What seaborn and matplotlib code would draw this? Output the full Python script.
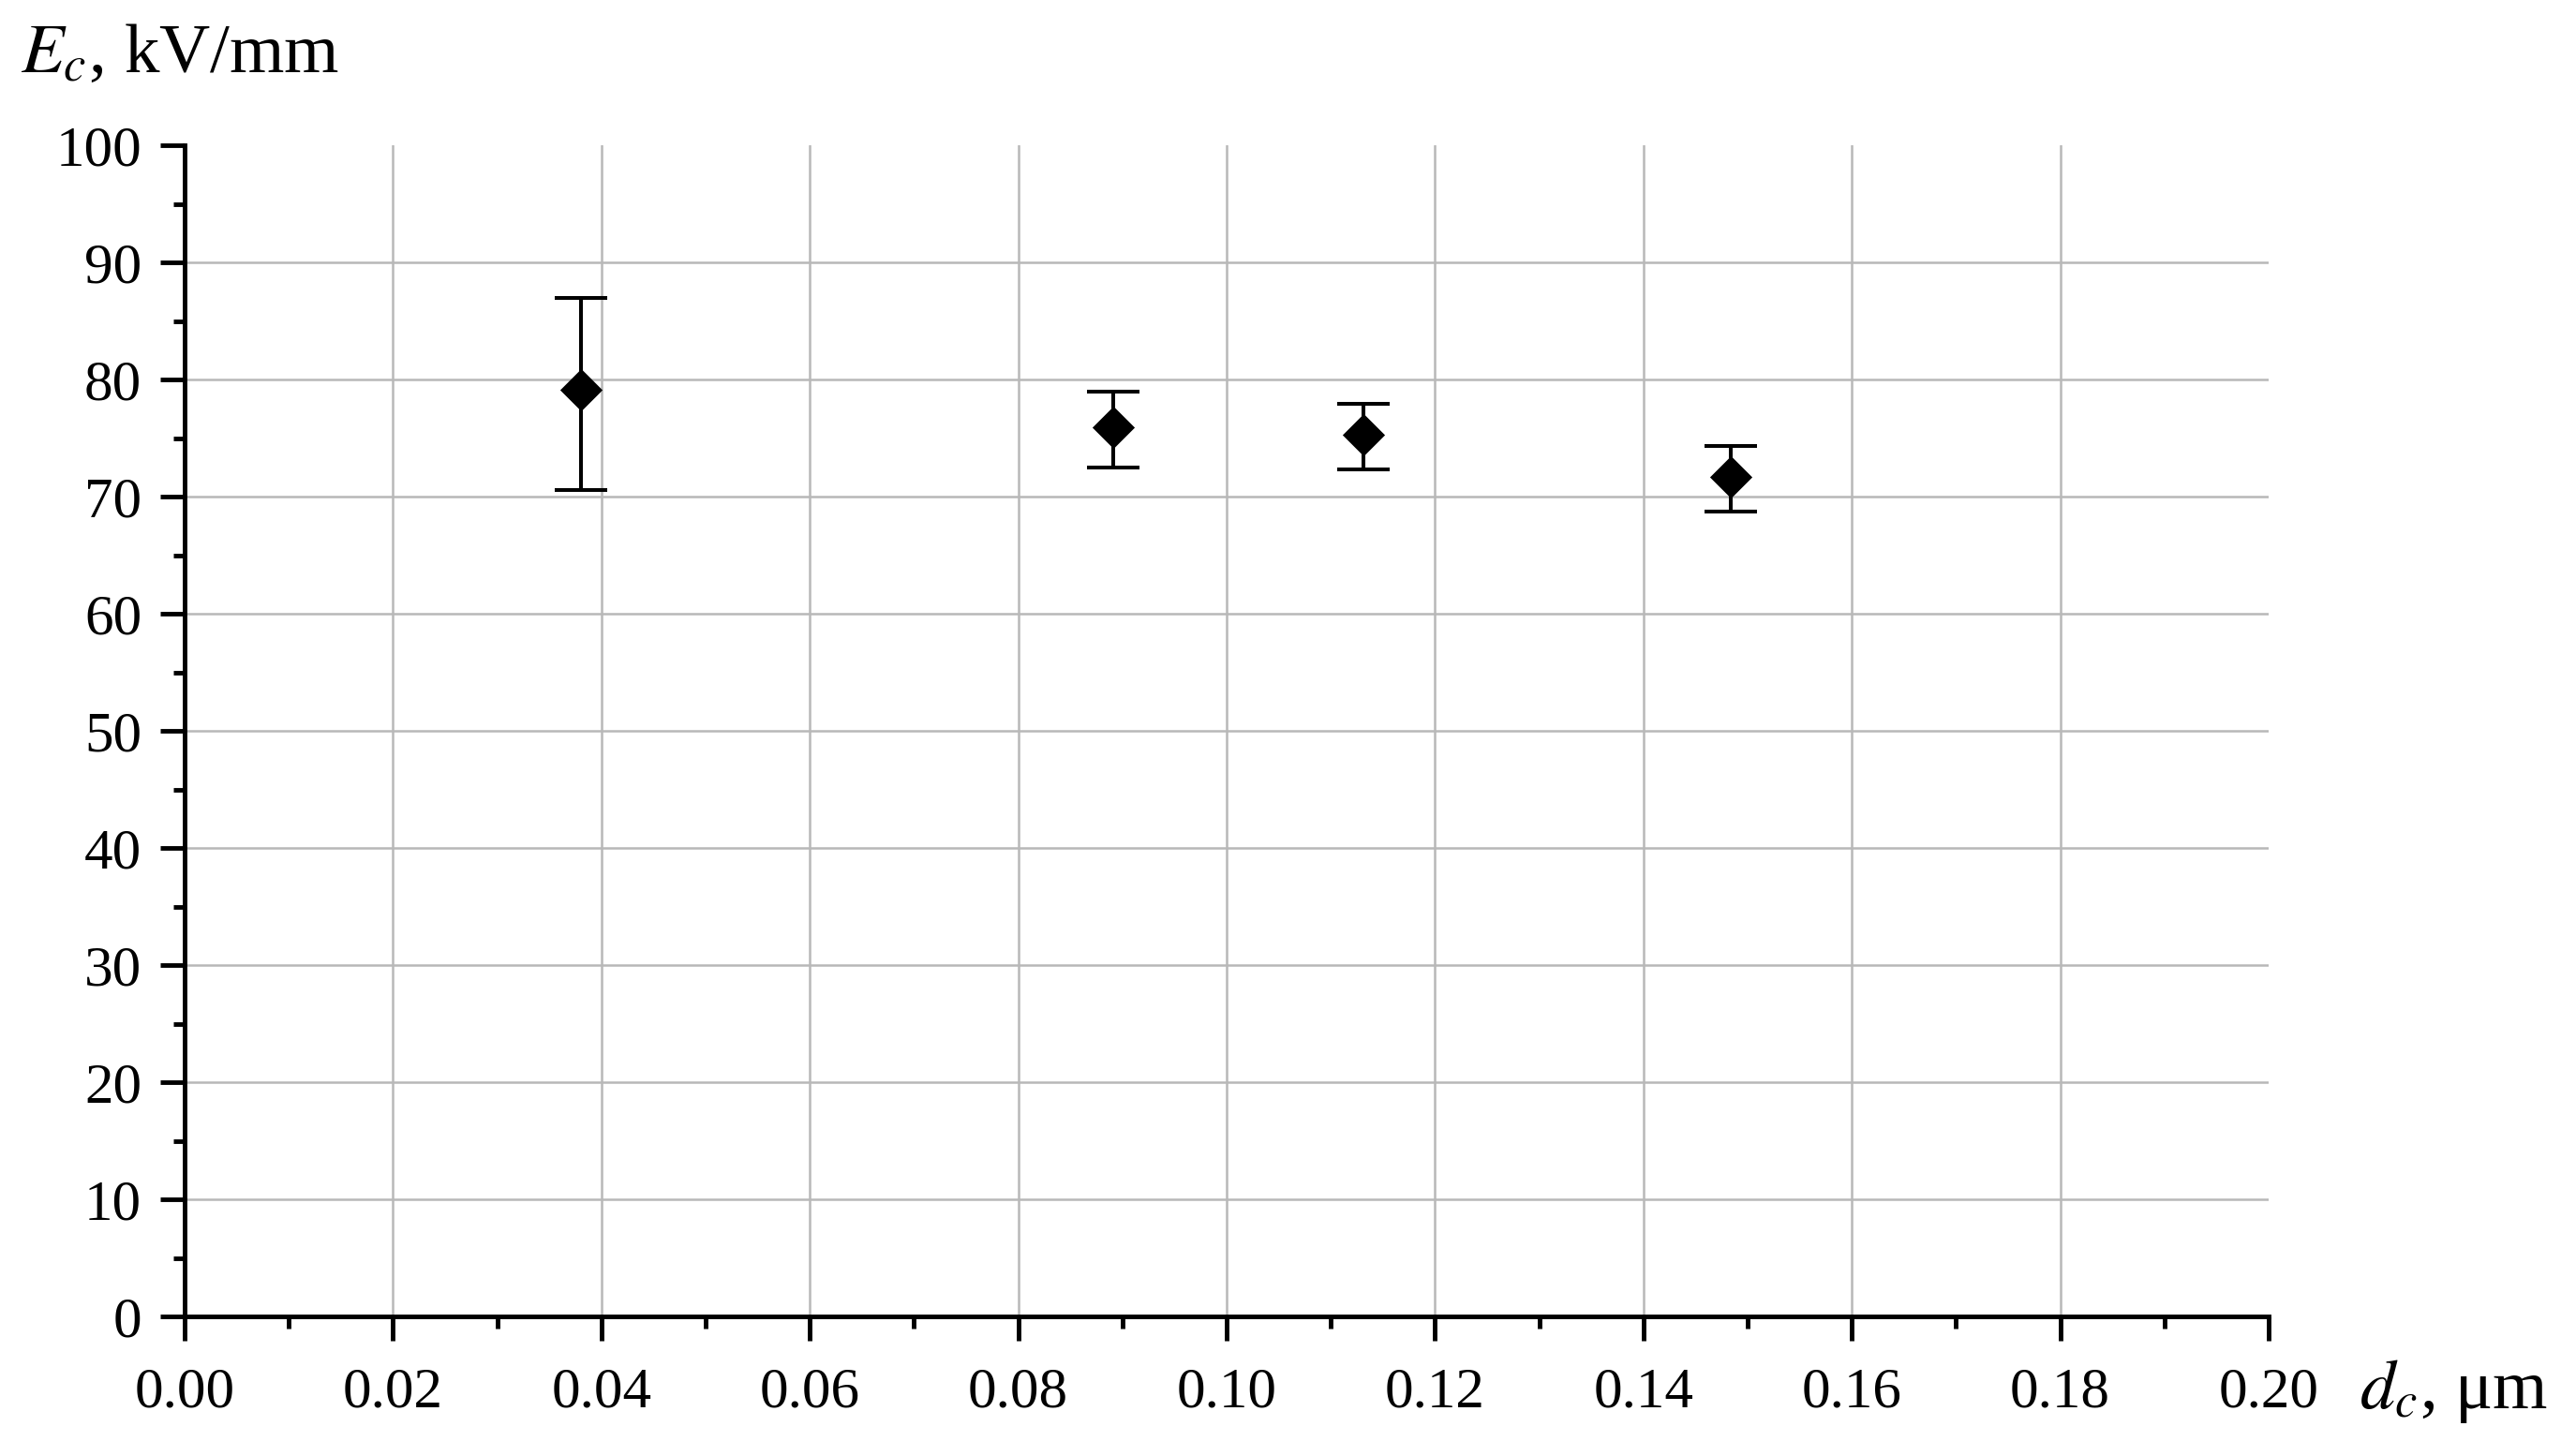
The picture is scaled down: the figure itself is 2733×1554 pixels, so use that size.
import numpy as np
import pandas as pd
import seaborn as sns
import matplotlib.pyplot as plt
from matplotlib.ticker import MultipleLocator

# data
d_c = [0.0380, 0.0891, 0.1131, 0.1484]          # um
E_c = [79.1, 75.9, 75.3, 71.7]                  # kV/mm
E_hi = [87.0, 79.0, 77.9, 74.3]                 # upper end of error bar
E_lo = [70.6, 72.5, 72.3, 68.7]                 # lower end of error bar

df = pd.DataFrame({'d_c': d_c, 'E_c': E_c, 'hi': E_hi, 'lo': E_lo})

sns.set_theme(style="white")
plt.rcParams['font.family'] = ['Liberation Serif', 'DejaVu Serif']
plt.rcParams['mathtext.fontset'] = 'stix'
plt.rcParams['text.color'] = 'black'
plt.rcParams['xtick.color'] = 'black'
plt.rcParams['ytick.color'] = 'black'

fig = plt.figure(figsize=(27.33, 15.54), dpi=100)
ax = fig.add_axes([197 / 2733, 1 - 1405 / 1554, (2421 - 197) / 2733, (1405 - 155) / 1554])

# error bars first, markers on top
ax.errorbar(df['d_c'], df['E_c'],
            yerr=[df['E_c'] - df['lo'], df['hi'] - df['E_c']],
            fmt='none', ecolor='black', elinewidth=2.9, capsize=20, capthick=2.9, zorder=3)
sns.scatterplot(data=df, x='d_c', y='E_c', marker='D', s=23 ** 2, color='black',
                edgecolor='black', linewidth=0, zorder=4, ax=ax, legend=False)

ax.set_xlim(0, 0.20)
ax.set_ylim(0, 100)
ax.xaxis.set_major_locator(MultipleLocator(0.02))
ax.xaxis.set_minor_locator(MultipleLocator(0.01))
ax.yaxis.set_major_locator(MultipleLocator(10))
ax.yaxis.set_minor_locator(MultipleLocator(5))
ax.xaxis.set_major_formatter(plt.FuncFormatter(lambda v, p: f"{v:.2f}"))
ax.yaxis.set_major_formatter(plt.FuncFormatter(lambda v, p: f"{v:.0f}"))

ax.set_xlabel('')
ax.set_ylabel('')

for s in ['top', 'right']:
    ax.spines[s].set_visible(False)
for s in ['left', 'bottom']:
    ax.spines[s].set_linewidth(3.5)
    ax.spines[s].set_color('black')

ax.tick_params(which='major', direction='out', length=19, width=3.5, color='black',
               labelsize=44, labelcolor='black', bottom=True, left=True)
ax.tick_params(axis='x', which='major', pad=20)
ax.tick_params(axis='y', which='major', pad=14)
ax.tick_params(which='minor', direction='out', length=9, width=3.5, color='black',
               bottom=True, left=True)

ax.grid(True, which='major', color='#b8b8b8', linewidth=1.8)
ax.set_axisbelow(True)
# no grid lines on the outer limits
fig.canvas.draw()
for axis, lims in [(ax.xaxis, ax.get_xlim()), (ax.yaxis, ax.get_ylim())]:
    for t in axis.get_major_ticks():
        loc = t.get_loc()
        if np.isclose(loc, lims[0]) or np.isclose(loc, lims[1]):
            t.gridline.set_visible(False)

fig.text(22 / 2733, 1 - 77 / 1554, r'$E_c$, kV/mm', fontsize=54, ha='left', va='baseline')
fig.text(2518 / 2733, 1 - 1503 / 1554, r'$d_c$, μm', fontsize=54, ha='left', va='baseline')

fig.savefig('out.png', dpi=100, facecolor='white')
